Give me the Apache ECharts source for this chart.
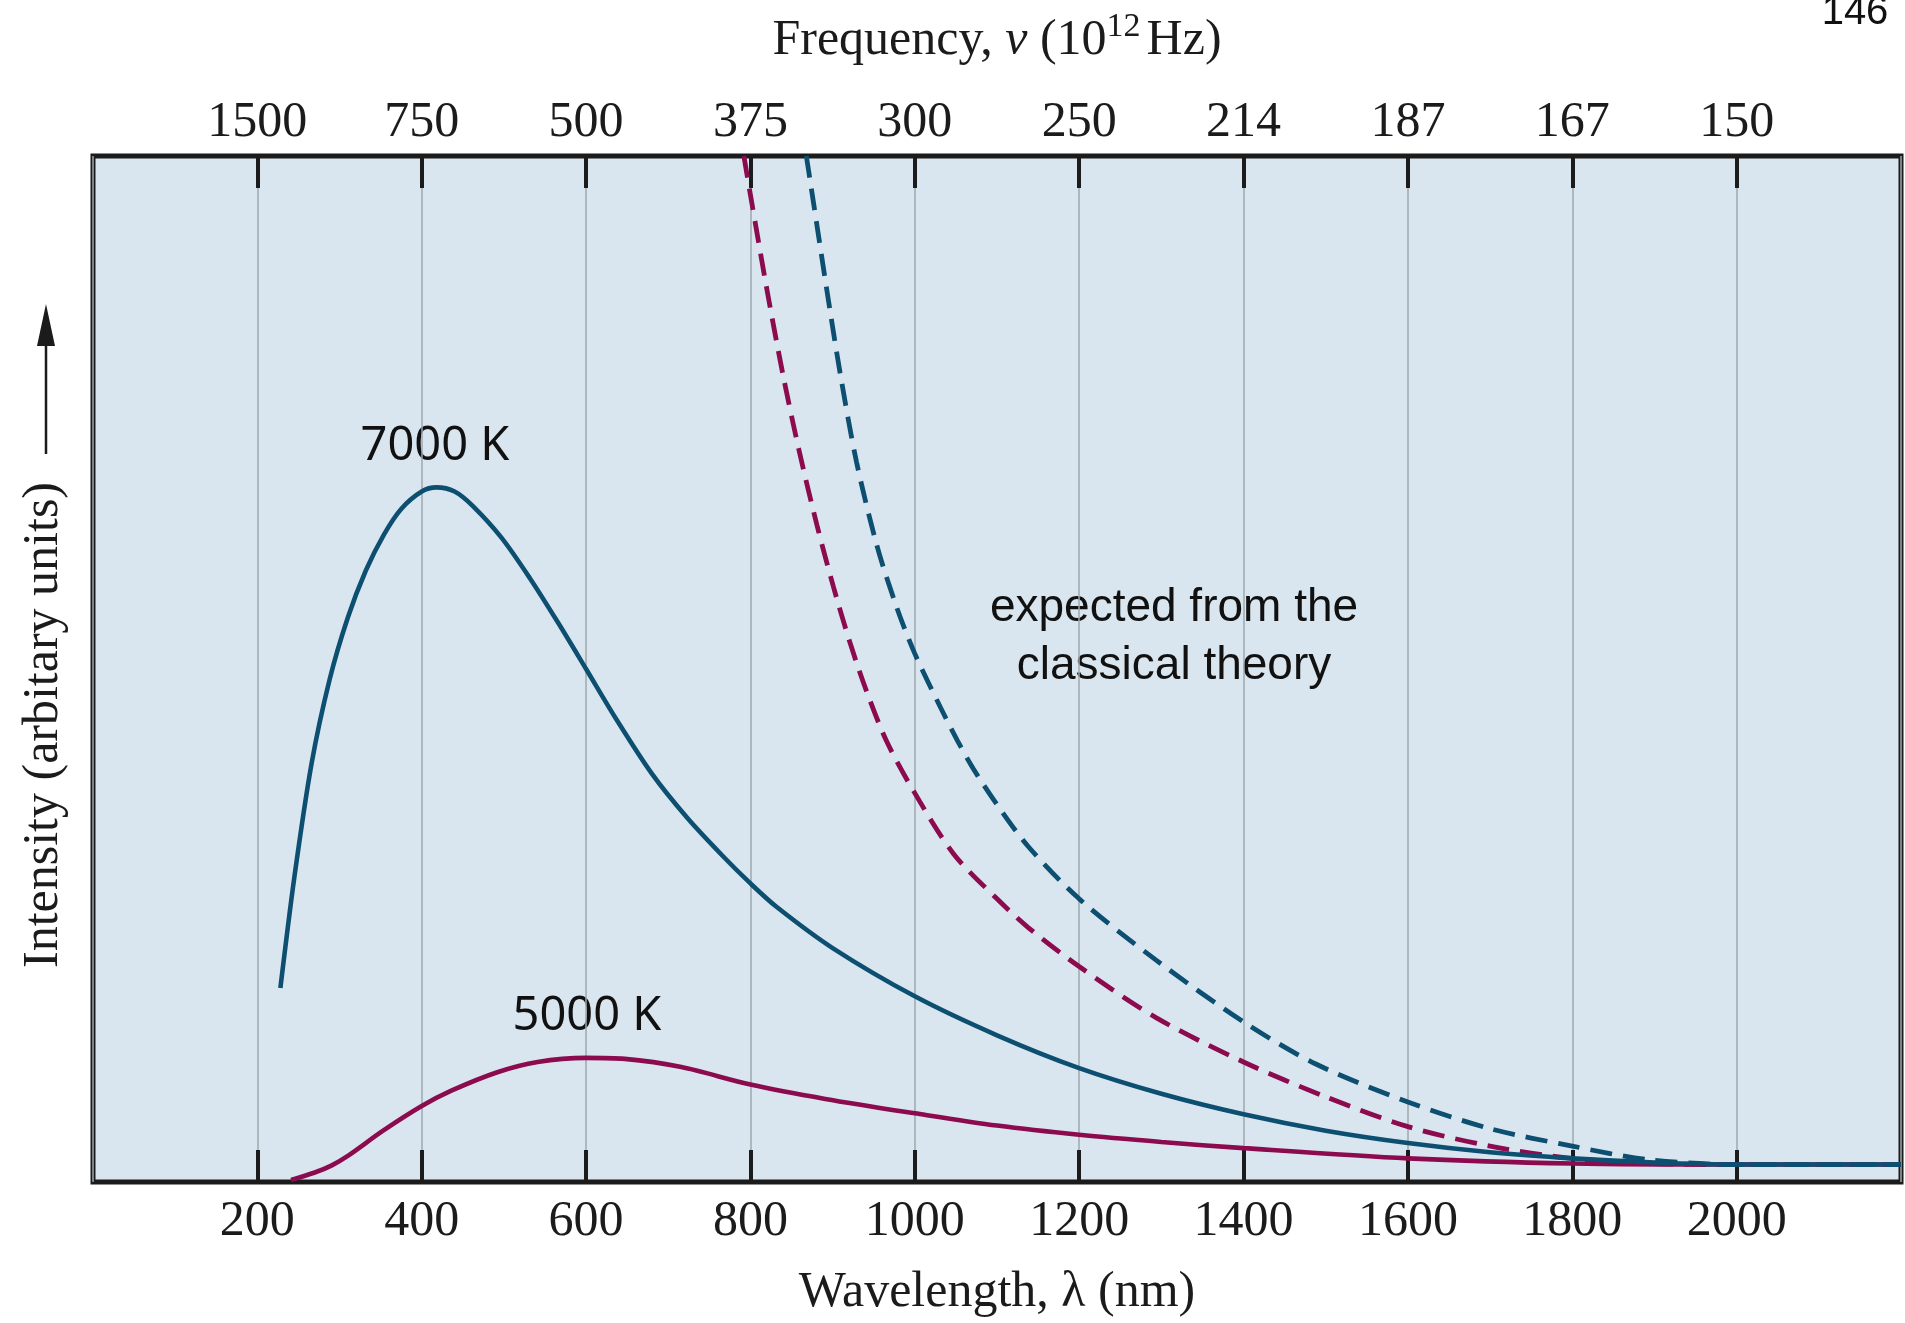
<!DOCTYPE html>
<html lang="en">
<head>
<meta charset="UTF-8">
<title>Blackbody radiation curves</title>
<script src="https://cdn.jsdelivr.net/npm/echarts@6/dist/echarts.min.js"></script>
<style>
  html, body { margin: 0; padding: 0; background: #fff; }
  #chart { width: 1905px; height: 1323px; }
</style>
</head>
<body>
<div id="chart"></div>
<script>
  // wavelength (nm) / intensity (arbitrary units, 0-100)
  var wl7000  = [228, 245, 266, 288, 310, 332, 354, 375, 400, 418, 440, 462, 497, 532, 566, 600, 636, 680, 723, 766, 800, 832, 900, 1000, 1100, 1200, 1300, 1400, 1500, 1600, 1700, 1800, 1900, 2000, 2200];
  var int7000 = [18.9, 29.7, 40.8, 49.0, 55.0, 59.6, 63.1, 65.6, 67.3, 67.7, 67.3, 65.9, 62.8, 58.8, 54.5, 50.0, 45.2, 39.8, 35.5, 31.8, 29.1, 26.8, 22.8, 18.1, 14.3, 11.1, 8.6, 6.6, 5.0, 3.8, 2.9, 2.3, 1.9, 1.7, 1.7];

  var wl5000  = [241, 269, 290, 311, 353, 400, 436, 492, 541, 600, 647, 716, 800, 891, 1000, 1100, 1200, 1300, 1400, 1600, 1800, 2000, 2200];
  var int5000 = [0.2, 0.9, 1.6, 2.6, 5.0, 7.4, 8.9, 10.7, 11.7, 12.1, 12.0, 11.2, 9.5, 8.1, 6.7, 5.5, 4.6, 3.9, 3.3, 2.3, 1.8, 1.7, 1.7];

  // classical (Rayleigh-Jeans) curves, dashed
  var wlClassic5000  = [792, 800, 820, 840, 860, 881, 901, 921, 941, 966, 1000, 1047, 1100, 1138, 1200, 1294, 1400, 1500, 1600, 1700, 1800, 1900, 2000, 2200];
  var intClassic5000 = [100, 96.2, 87.0, 78.5, 71.0, 64.0, 58.0, 52.6, 47.9, 42.9, 37.9, 32.0, 27.6, 24.8, 21.0, 16.0, 11.7, 8.3, 5.4, 3.5, 2.3, 1.8, 1.7, 1.7];

  var wlClassic7000  = [868, 877, 893, 909, 929, 954, 978, 1000, 1031, 1052, 1071, 1099, 1138, 1200, 1294, 1400, 1488, 1600, 1700, 1800, 1890, 2000, 2200];
  var intClassic7000 = [100, 95.3, 86.9, 78.9, 70.2, 62.0, 56.0, 51.5, 46.3, 43.0, 40.3, 36.9, 32.7, 27.6, 21.6, 15.6, 11.5, 7.8, 5.2, 3.5, 2.2, 1.7, 1.7];

  // top axis: frequency (10^12 Hz) at each wavelength tick 200..2000
  var freqLabels = ['1500', '750', '500', '375', '300', '250', '214', '187', '167', '150'];

  var serif = 'Liberation Serif';
  var ink = '#1b1b1b';
  var blue = '#0d4f70', crimson = '#8c0b4f';

  function zip(xs, ys) {
    return xs.map(function (x, i) { return [x, ys[i]]; });
  }

  function curve(name, xs, ys, color, dashed) {
    return {
      name: name, type: 'line', data: zip(xs, ys),
      smooth: 0.3, symbol: 'none',
      lineStyle: { color: color, width: dashed ? 4.8 : 4.6, type: dashed ? [22, 11] : 'solid' }
    };
  }

  var chart = echarts.init(document.getElementById('chart'));

  chart.setOption({
    animation: false,
    grid: {
      left: 93, right: 4, top: 156, bottom: 138,
      show: true, backgroundColor: '#dae6ef', borderColor: ink, borderWidth: 5
    },
    xAxis: [{
      type: 'value', position: 'bottom', min: 0, max: 2200, interval: 200,
      name: 'Wavelength, λ (nm)', nameLocation: 'middle', nameGap: 86,
      nameTextStyle: { fontFamily: serif, fontSize: 50, color: ink },
      axisLine: { show: false },
      axisTick: { show: true, inside: true, length: 32, lineStyle: { color: ink, width: 4 } },
      axisLabel: {
        showMinLabel: false, showMaxLabel: false, margin: 15,
        fontFamily: serif, fontSize: 50, color: ink,
        formatter: function (v) { return String(v); }
      },
      splitLine: { show: true, lineStyle: { color: '#9ea7ae', width: 1.5 } }
    }, {
      type: 'value', position: 'top', min: 0, max: 2200, interval: 200,
      name: '{n|Frequency, }{i|ν}{n| (10}{s|12}{n|Hz)}', nameLocation: 'middle', nameGap: 84,
      nameTextStyle: {
        rich: {
          n: { fontFamily: serif, fontSize: 50, color: ink },
          i: { fontFamily: serif, fontSize: 50, fontStyle: 'italic', color: ink },
          s: { fontFamily: serif, fontSize: 34, color: ink, padding: [0, 6, 28, 0] }
        }
      },
      axisLine: { show: false },
      axisTick: { show: true, inside: true, length: 32, lineStyle: { color: ink, width: 4 } },
      axisLabel: {
        showMinLabel: false, showMaxLabel: false, margin: 8,
        fontFamily: serif, fontSize: 50, color: ink,
        formatter: function (v) { return freqLabels[v / 200 - 1] || ''; }
      },
      splitLine: { show: false }
    }],
    yAxis: { type: 'value', min: 0, max: 100, show: false },
    series: [
      curve('classical 5000 K', wlClassic5000, intClassic5000, crimson, true),
      curve('5000 K', wl5000, int5000, crimson, false),
      curve('classical 7000 K', wlClassic7000, intClassic7000, blue, true),
      curve('7000 K', wl7000, int7000, blue, false)
    ],
    graphic: [
      {
        type: 'text', x: 44, y: 725, rotation: Math.PI / 2,
        style: { text: 'Intensity (arbitary units)', font: '50px "Liberation Serif"', fill: ink, align: 'center', verticalAlign: 'middle' }
      },
      { type: 'line', shape: { x1: 46, y1: 454, x2: 46, y2: 330 }, style: { stroke: ink, lineWidth: 2.5 } },
      { type: 'polygon', shape: { points: [[46, 304], [37, 346], [55, 346]] }, style: { fill: ink } },
      {
        type: 'text', x: 435, y: 447,
        style: { text: '7000 K', font: '47px "Noto Sans"', fill: '#111', align: 'center', verticalAlign: 'middle' }
      },
      {
        type: 'text', x: 587, y: 1017,
        style: { text: '5000 K', font: '47px "Noto Sans"', fill: '#111', align: 'center', verticalAlign: 'middle' }
      },
      {
        type: 'text', x: 1174, y: 637,
        style: { text: 'expected from the\nclassical theory', font: '46px "Liberation Sans"', lineHeight: 58, fill: '#111', align: 'center', verticalAlign: 'middle' }
      },
      {
        type: 'text', x: 1855, y: 33,
        style: { text: '146', font: '40px "Liberation Sans"', fill: '#111', align: 'center', verticalAlign: 'bottom' }
      }
    ]
  });
</script>
</body>
</html>
